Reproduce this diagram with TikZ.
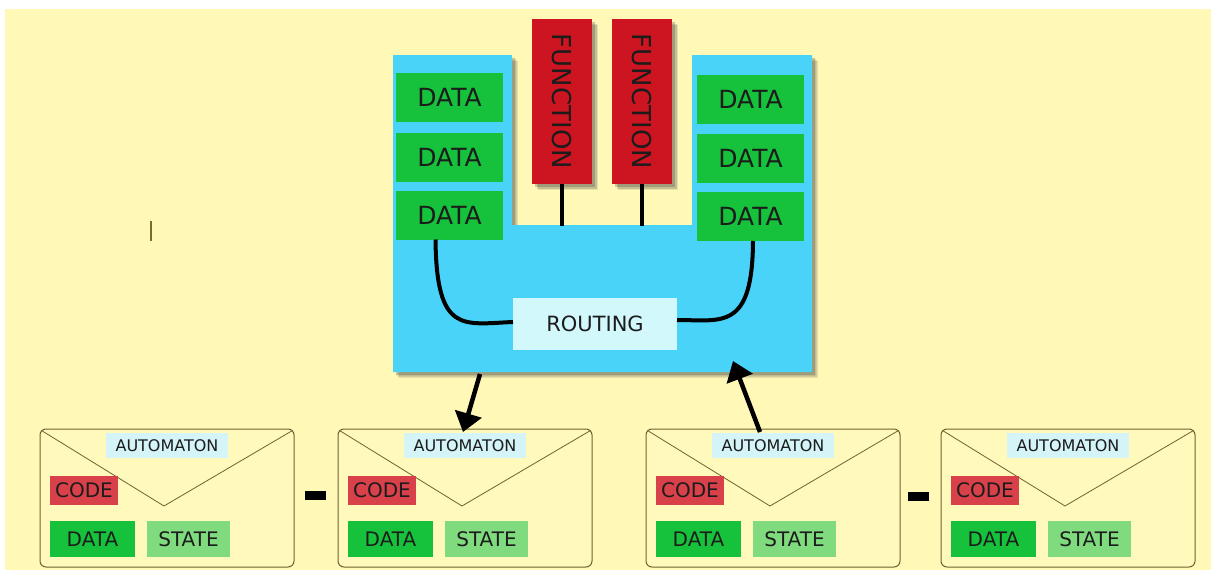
\documentclass[tikz,border=0pt]{standalone}
\usepackage{fontspec}
\setmainfont{DejaVu Sans}
\usetikzlibrary{arrows.meta,shadows,calc}
\definecolor{bg}{HTML}{FFF8B6}
\definecolor{bluebox}{HTML}{4AD3F9}
\definecolor{datag}{HTML}{16C13C}
\definecolor{funcr}{HTML}{CC1520}
\definecolor{coder}{HTML}{D8414A}
\definecolor{stateg}{HTML}{80DB7E}
\definecolor{autobg}{HTML}{D4F4F8}
\definecolor{routbg}{HTML}{D2F8FC}
\definecolor{envline}{HTML}{6E6232}
\definecolor{txt}{HTML}{1C1C1C}
\definecolor{cursor}{HTML}{7A6A30}
\tikzset{
  softshadow/.style={
    drop shadow={shadow xshift=6pt,shadow yshift=-6pt,opacity=.12,fill=black!80},
    drop shadow={shadow xshift=4.5pt,shadow yshift=-4.5pt,opacity=.18,fill=black!80},
    drop shadow={shadow xshift=3pt,shadow yshift=-3pt,opacity=.25,fill=black!80}},
  box/.style={inner sep=0pt,outer sep=0pt,text=txt},
  bigdata/.style={box,fill=datag,minimum width=107pt,minimum height=49pt,
    font=\fontsize{25}{30}\selectfont},
  funcbox/.style={box,fill=funcr,minimum width=165pt,minimum height=60pt,
    rotate=-90,font=\fontsize{26}{30}\selectfont,softshadow},
  routbox/.style={box,fill=routbg,minimum width=164pt,minimum height=52pt,
    font=\fontsize{21}{25}\selectfont},
  envbox/.style={box,draw=envline,line width=1pt,rounded corners=6pt,
    minimum width=254pt,minimum height=138pt,fill=bg!92!white},
  autobox/.style={box,fill=autobg,minimum width=122pt,minimum height=25pt,
    font=\fontsize{16}{20}\selectfont},
  codebox/.style={box,fill=coder,minimum width=68pt,minimum height=29pt,
    font=\fontsize{20}{24}\selectfont},
  smalldata/.style={box,fill=datag,minimum width=85pt,minimum height=36pt,
    font=\fontsize{20}{24}\selectfont},
  statebox/.style={box,fill=stateg,minimum width=83pt,minimum height=36pt,
    font=\fontsize{20}{24}\selectfont},
  flap/.style={draw=envline,line width=0.8pt},
  conn/.style={draw=black,line width=4pt},
  bigarrow/.style={draw=black,line width=4.5pt,-{Triangle[length=19pt,width=27pt]}},
  minusbox/.style={box,fill=black,minimum width=21pt,minimum height=9pt},
}
\begin{document}
\begin{tikzpicture}[x=1pt,y=-1pt]
\useasboundingbox (0,0) rectangle (1211,570);
\fill[white] (0,0) rectangle (1211,570);
\fill[bg] (5,9) rectangle (1211,570);
% cursor mark
\draw[cursor,line width=1.3pt] (151,221) -- (151,241);
% main blue shape
\fill[bluebox,softshadow] (393,55) -- (512,55) -- (512,225) -- (692,225) -- (692,55)
  -- (812,55) -- (812,372) -- (393,372) -- cycle;
% data boxes
\node[bigdata] (dl1) at (449.5,97.5) {DATA};
\node[bigdata] (dl2) at (449.5,157) {DATA};
\node[bigdata] (dl3) at (449.5,215) {DATA};
\node[bigdata] (dr1) at (750.5,99) {DATA};
\node[bigdata] (dr2) at (750.5,158) {DATA};
\node[bigdata] (dr3) at (750.5,216.5) {DATA};
% functions
\node[funcbox] (f1) at (562,101.5) {FUNCTION};
\node[funcbox] (f2) at (642,101.5) {FUNCTION};
\coordinate (f1end) at (562,226);
\coordinate (f2end) at (642,226);
\draw[conn] (f1.east) -- (f1end);
\draw[conn] (f2.east) -- (f2end);
% routing
\node[routbox] (rout) at (595,324) {ROUTING};
\draw[conn] ($(dl3.south)+(-14,0)$) .. controls ($(dl3.south)+(-13,95)$) and ($(rout.west)+(-50,0)$) .. ($(rout.west)+(0,-2)$);
\draw[conn] ($(dr3.south)+(2.5,0)$) .. controls ($(dr3.south)+(2,90)$) and ($(rout.east)+(45,-4)$) .. ($(rout.east)+(0,-4)$);
% envelopes
\foreach \i/\L in {1/40,2/338,3/646,4/941}{
  \node[envbox] (env\i) at (\L+127,498) {};
  \coordinate (v\i) at (\L+124,506);
  \draw[flap] ($(env\i.north west)+(1.5,1.5)$) -- (v\i) -- ($(env\i.north east)+(-1.5,1.5)$);
  \node[autobox] (a\i) at (\L+127,445.5) {AUTOMATON};
  \node[codebox] (c\i) at (\L+44,490.5) {CODE};
  \node[smalldata] (d\i) at (\L+52.5,539) {DATA};
  \node[statebox] (s\i) at (\L+148.5,539) {STATE};
}
% minus signs
\node[minusbox] (m1) at (315.5,495) {};
\node[minusbox] (m2) at (918,496) {};
% arrows
\coordinate (outL) at (480,374);
\coordinate (inR) at (733,361);
\draw[bigarrow] (outL) -- ($(env2.north)+(-2,3)$);
\draw[bigarrow] ($(env3.north)+(-13,3)$) -- (inR);
\end{tikzpicture}
\end{document}
